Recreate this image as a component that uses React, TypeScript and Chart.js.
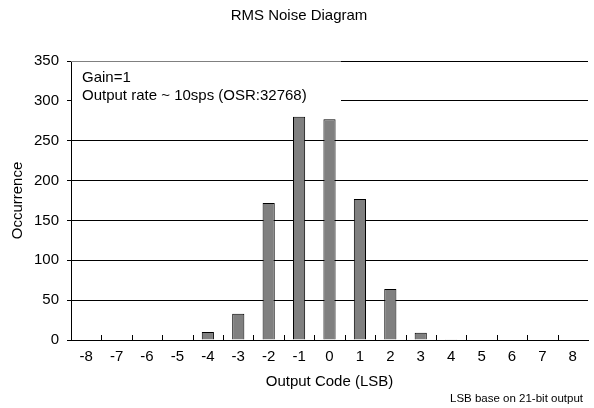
import React, { useEffect, useRef } from "react";
import { Chart, registerables } from "chart.js";

Chart.register(...registerables);

const codes = ["-8", "-7", "-6", "-5", "-4", "-3", "-2", "-1", "0", "1", "2", "3", "4", "5", "6", "7", "8"];
const occurrences = [0, 0, 0, 0, 10, 33, 172, 280, 277, 177, 64, 9, 1, 0, 0, 0, 0];
const titleText = "RMS Noise Diagram";
const xTitle = "Output Code (LSB)";
const yTitle = "Occurrence";
const noteLines = ["Gain=1", "Output rate ~ 10sps (OSR:32768)"];
const footnote = "LSB base on 21-bit output";

const FONT = "'Liberation Sans', Arial, sans-serif";

const decorPlugin = {
  id: "decor",
  afterDatasetsDraw(chart: any) {
    const ctx = chart.ctx;
    const a = chart.chartArea;
    const x = chart.scales.x;
    ctx.save();
    ctx.strokeStyle = "#000";
    ctx.lineWidth = 1;
    const n = codes.length;
    for (let i = 1; i < n; i++) {
      const px = Math.round((x.getPixelForValue(i - 1) + x.getPixelForValue(i)) / 2) + 0.5;
      ctx.beginPath();
      ctx.moveTo(px, a.bottom);
      ctx.lineTo(px, a.bottom - 5);
      ctx.stroke();
    }
    const y = chart.scales.y;
    const boxRight = 341;
    const boxBottom = y.getPixelForValue(300) + 1.5;
    ctx.fillStyle = "#fff";
    ctx.fillRect(a.left + 1, a.top, boxRight - a.left - 1, boxBottom - a.top);
    ctx.strokeStyle = "#808080";
    ctx.beginPath();
    ctx.moveTo(a.left, Math.round(a.top) + 0.5);
    ctx.lineTo(boxRight, Math.round(a.top) + 0.5);
    ctx.stroke();
    ctx.fillStyle = "#000";
    ctx.font = `15px ${FONT}`;
    ctx.textAlign = "left";
    ctx.textBaseline = "middle";
    ctx.fillText(noteLines[0], 82, 78);
    ctx.fillText(noteLines[1], 82, 96);
    ctx.restore();
  },
  afterDraw(chart: any) {
    const ctx = chart.ctx;
    const a = chart.chartArea;
    ctx.save();
    ctx.fillStyle = "#000";
    ctx.textBaseline = "middle";
    ctx.font = `15px ${FONT}`;
    ctx.textAlign = "center";
    ctx.fillText(titleText, 299, 16);
    ctx.fillText(xTitle, (a.left + a.right) / 2, 382);
    ctx.save();
    ctx.translate(18, (a.top + a.bottom) / 2);
    ctx.rotate(-Math.PI / 2);
    ctx.fillText(yTitle, 0, 0);
    ctx.restore();
    ctx.font = `11.5px ${FONT}`;
    ctx.textAlign = "right";
    ctx.fillText(footnote, 583, 399);
    ctx.restore();
  },
};

export default function App() {
  const ref = useRef<HTMLCanvasElement>(null);
  useEffect(() => {
    if (!ref.current) return;
    const chart = new Chart(ref.current, {
      type: "bar",
      data: {
        labels: codes,
        datasets: [
          {
            data: occurrences,
            backgroundColor: "#808080",
            borderColor: "#000",
            borderWidth: 1,
            barPercentage: 0.8,
            categoryPercentage: 0.5,
          },
        ],
      },
      options: {
        animation: false,
        responsive: false,
        layout: { padding: { left: 0, right: 6, top: 61, bottom: 0 } },
        plugins: { legend: { display: false }, title: { display: false }, tooltip: { enabled: false } },
        scales: {
          x: {
            grid: { display: false, drawTicks: false },
            border: { display: true, color: "#000", width: 1 },
            ticks: { color: "#000", font: { family: FONT, size: 15 }, padding: 8, maxRotation: 0, autoSkip: false },
            afterFit: (s: any) => {
              s.height = 68;
            },
          },
          y: {
            min: 0,
            max: 350,
            ticks: { stepSize: 50, color: "#000", font: { family: FONT, size: 15 }, padding: 8 },
            grid: { color: "#000", lineWidth: 1, tickLength: 4 },
            border: { display: true, color: "#000", width: 1 },
            afterFit: (s: any) => {
              s.width = 71;
            },
          },
        },
      },
      plugins: [decorPlugin],
    });
    return () => chart.destroy();
  }, []);
  return (
    <div style={{ position: "absolute", left: 0, top: 0, width: 594, height: 408, background: "#fff" }}>
      <canvas ref={ref} width={594} height={408} style={{ width: 594, height: 408 }} />
    </div>
  );
}
